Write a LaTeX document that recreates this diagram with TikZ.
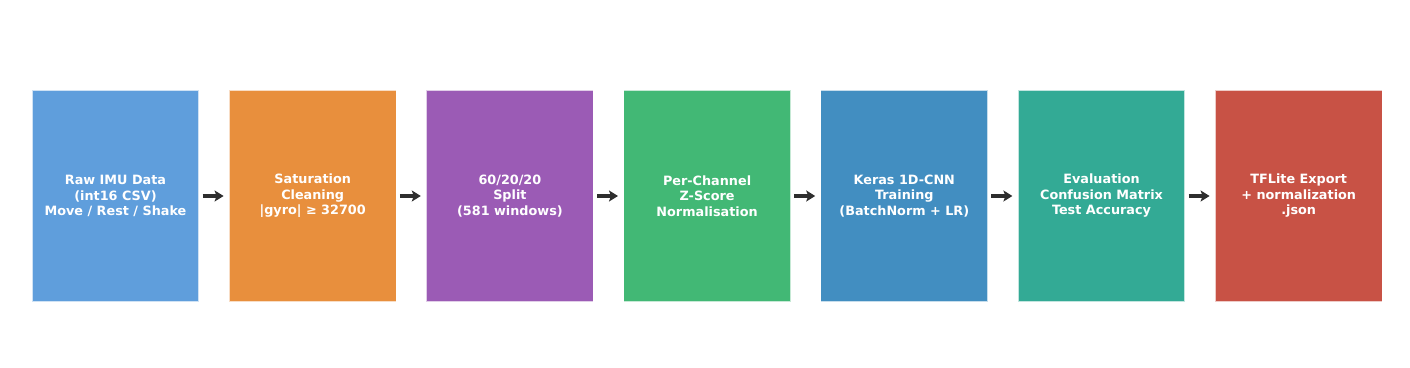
\documentclass[tikz,border=0pt]{standalone}
\usepackage{fontspec}
\setmainfont{DejaVu Sans}
\usetikzlibrary{arrows.meta}
\definecolor{cA}{HTML}{5F9EDC}
\definecolor{cB}{HTML}{E88F3D}
\definecolor{cC}{HTML}{9B5BB5}
\definecolor{cD}{HTML}{42B875}
\definecolor{cE}{HTML}{428EC1}
\definecolor{cF}{HTML}{33AA95}
\definecolor{cG}{HTML}{C85245}
\definecolor{arr}{HTML}{2E2E2E}
\tikzset{
  stage/.style={draw=white, draw opacity=0.7, line width=1.2pt, fill=#1, minimum width=167pt, minimum height=211pt,
    inner sep=0pt, align=center, text=white,
    font=\fontsize{12.8}{15.5}\selectfont\bfseries},
  flow/.style={draw=arr, line width=3.2pt, -{Stealth[length=9pt,width=11pt,inset=2pt]}, shorten <=3pt, shorten >=5pt}
}
\begin{document}
\begin{tikzpicture}[x=1pt,y=1pt]
\useasboundingbox (0,0) rectangle (1410,367);
\node[stage=cA] (s1) at (115.5,171) {Raw IMU Data\\(int16 CSV)\\Move / Rest / Shake};
\node[stage=cB] (s2) at (312.7,171) {Saturation\\Cleaning\\|gyro| ≥ 32700};
\node[stage=cC] (s3) at (509.9,171) {60/20/20\\Split\\(581 windows)};
\node[stage=cD] (s4) at (707.1,171) {Per-Channel\\Z-Score\\Normalisation};
\node[stage=cE] (s5) at (904.3,171) {Keras 1D-CNN\\Training\\(BatchNorm + LR)};
\node[stage=cF] (s6) at (1101.5,171) {Evaluation\\Confusion Matrix\\Test Accuracy};
\node[stage=cG] (s7) at (1298.7,171) {TFLite Export\\+ normalization\\.json};
\draw[flow] (s1) -- (s2);
\draw[flow] (s2) -- (s3);
\draw[flow] (s3) -- (s4);
\draw[flow] (s4) -- (s5);
\draw[flow] (s5) -- (s6);
\draw[flow] (s6) -- (s7);
\end{tikzpicture}
\end{document}
